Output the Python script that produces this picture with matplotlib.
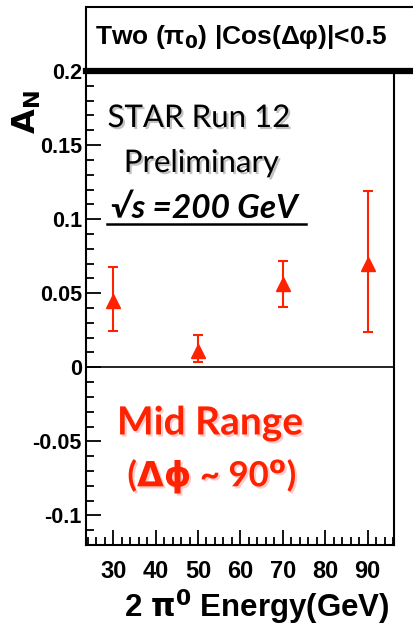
import matplotlib
matplotlib.use("Agg")
from matplotlib import pyplot as plt
from matplotlib import patheffects as pe
from matplotlib.patches import Rectangle
from matplotlib.lines import Line2D
from matplotlib.ticker import MultipleLocator

# data
energy = [30, 50, 70, 90]
a_n = [0.045, 0.011, 0.056, 0.070]
err_lo = [0.0202, 0.0072, 0.0154, 0.0459]
err_hi = [0.0230, 0.0105, 0.0158, 0.0490]

x_ticks = [30, 40, 50, 60, 70, 80, 90]
x_tick_labels = ["30", "40", "50", "60", "70", "80", "90"]
y_ticks = [-0.1, -0.05, 0, 0.05, 0.1, 0.15, 0.2]
y_tick_labels = ["-0.1", "-0.05", "0", "0.05", "0.1", "0.15", "0.2"]

red = "#ff2200"
W, H = 413, 627

fig = plt.figure(figsize=(W / 100, H / 100), dpi=100)
ax = fig.add_axes([86 / W, 1 - 545 / H, (394 - 86) / W, (545 - 71) / H])

ax.errorbar(energy, a_n, yerr=[err_lo, err_hi], fmt="^", color=red,
            markersize=10, elinewidth=1.5, capsize=3.5, capthick=1.5)
ax.axhline(0, color="black", lw=1.2)

ax.set_xlim(23.6, 96.2)
ax.set_ylim(-0.12, 0.2)
ax.set_xticks(x_ticks, labels=x_tick_labels, fontsize=17, fontweight="bold",
              family="Liberation Sans")
ax.set_yticks(y_ticks, labels=y_tick_labels, fontsize=15.5, fontweight="bold",
              family="Liberation Sans")
ax.xaxis.set_minor_locator(MultipleLocator(2))
ax.yaxis.set_minor_locator(MultipleLocator(0.01))
ax.tick_params(which="both", direction="in", top=False, right=False)
ax.tick_params(which="major", length=11, width=1.3)
ax.tick_params(which="minor", length=6, width=1.3)
ax.tick_params(axis="x", which="major", pad=11)
ax.tick_params(axis="y", which="major", pad=3)
for s in ["left", "right", "bottom"]:
    ax.spines[s].set_linewidth(1.5)
ax.spines["top"].set_visible(False)

# title box above the frame
fig.patches.append(Rectangle((86 / W, 1 - 71 / H), 1.0, 64 / H,
                             transform=fig.transFigure, fill=False,
                             lw=1.5, ec="black", clip_on=False))
fig.lines.append(Line2D([86 / W, 1.0], [1 - 71 / H, 1 - 71 / H],
                        transform=fig.transFigure, color="black", lw=4.5))
fig.text(95 / W, 1 - 37 / H, "Two (\u03c0$_\\mathbf{0}$) |Cos(\u0394\u03c6)|<0.5",
         fontsize=19, fontweight="bold", family="Liberation Sans",
         va="center", ha="left")

fig.text(27 / W, 1 - 90 / H, r"$\mathbf{A_N}$", rotation=90, fontsize=23,
         ha="center", va="top")

shadow = [pe.withSimplePatchShadow(offset=(1.5, -1.5), shadow_rgbFace="#999999", alpha=0.6)]
t_kw = dict(transform=ax.transAxes, ha="center", va="center", family="Lato")
ax.text(0.367, 1 - (118 - 71) / 474, "STAR Run 12", fontsize=22.5, path_effects=shadow, **t_kw)
ax.text(0.375, 1 - (163 - 71) / 474, "Preliminary", fontsize=22.5, path_effects=shadow, **t_kw)
ax.text(0.385, 1 - (208 - 71) / 474, "\u221As =200 GeV", fontsize=24,
        fontweight="bold", style="italic", transform=ax.transAxes,
        ha="center", va="center", family=["Lato", "DejaVu Sans"])
ax.plot([(107 - 86) / 308, (306 - 86) / 308], [1 - (224 - 71) / 474] * 2,
        transform=ax.transAxes, color="black", lw=1.8)

red_shadow = [pe.withSimplePatchShadow(offset=(1.5, -1.5), shadow_rgbFace="#ffaaaa", alpha=0.6)]
ax.text(0.403, 1 - (423 - 71) / 474, "Mid Range", fontsize=28, fontweight="bold",
        color=red, path_effects=red_shadow, **t_kw)
ax.text(0.41, 1 - (476 - 71) / 474, r"($\mathbf{\Delta\phi}$ ~ 90$^{\mathbf{o}}$)", fontsize=25,
        fontweight="bold", color=red, path_effects=red_shadow, **t_kw)

fig.text(390 / W, 1 - 607 / H, r"2 $\mathbf{\pi^0}$ Energy(GeV)", fontsize=22.5,
         fontweight="bold", family="Liberation Sans", ha="right", va="center")

fig.savefig("out.png", dpi=100)
